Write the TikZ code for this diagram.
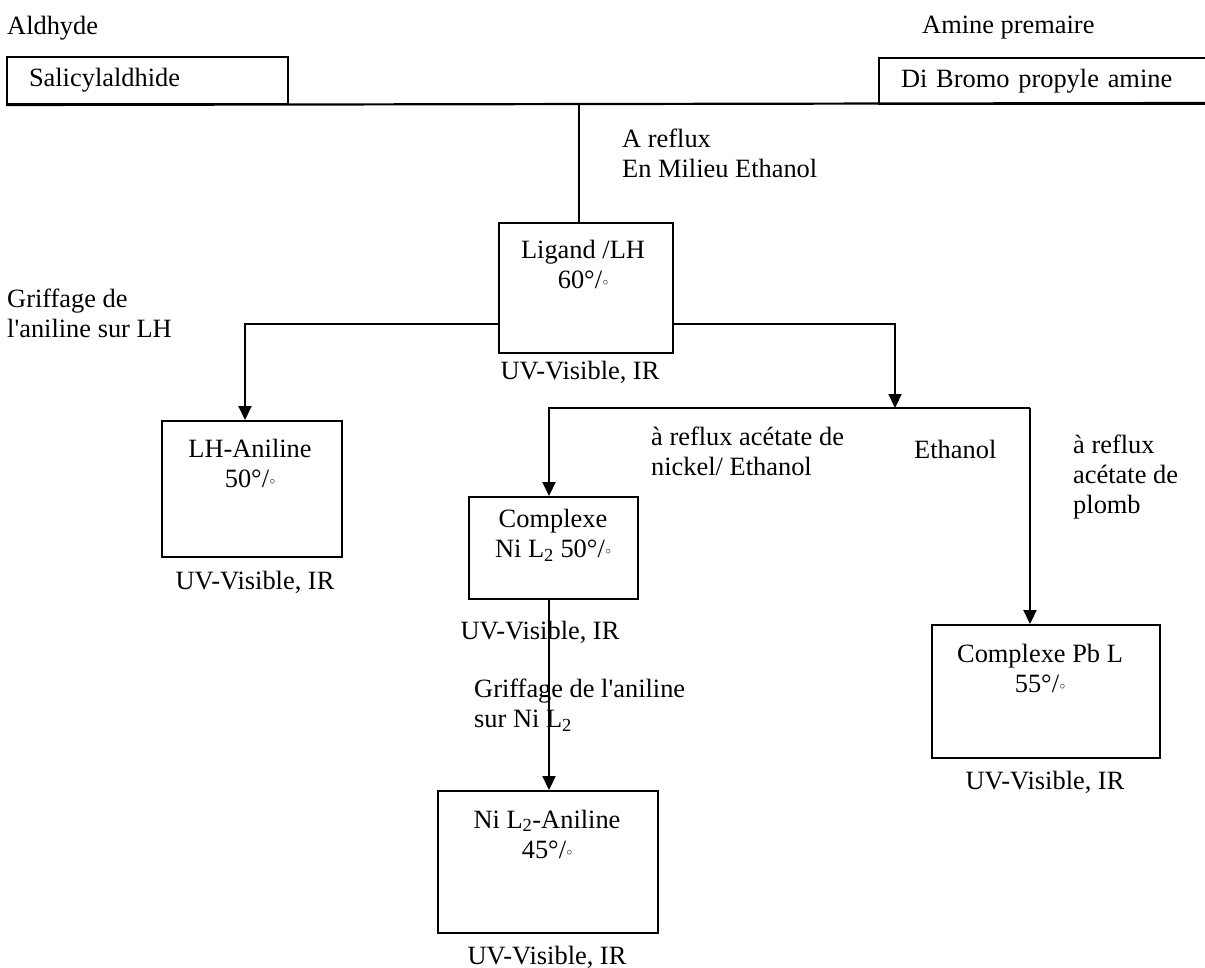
\documentclass[tikz,border=0pt]{standalone}
\usepackage{fontspec}
\setmainfont{Liberation Serif}
\usetikzlibrary{arrows.meta}

\newcommand{\pourcent}{°/\kern0.5pt\raisebox{0.1em}{\scalebox{0.45}{$\circ$}}}

\begin{document}
\begin{tikzpicture}[x=1pt, y=-1pt,
   every node/.style={font=\fontsize{26.4}{30}\selectfont, inner sep=0pt},
   boite/.style={draw, line width=2pt, anchor=north west},
   texte/.style={align=center},
   note/.style={anchor=west, align=left},
   fleche/.style={line width=2.2pt, -{Triangle[width=13pt, length=14pt]}},
   trait/.style={line width=2.2pt}]

\useasboundingbox (0,0) rectangle (1205,968);
\clip (0,0) rectangle (1205,968);

% reactifs
\node[note] (aldhyde) at (7,28) {Aldhyde};
\node[note] (amine) at (922,28) {Amine premaire};
\node[boite, inner xsep=22pt, text width=237pt, minimum height=47pt, align=left] (sal) at (6,56) {Salicylaldhide};
\node[boite, inner xsep=22pt, text width=300pt, minimum height=46pt, align=left] (dibromo) at (878,57) {Di Bromo propyle amine};
\coordinate (bord) at (1205,103);
\coordinate (jonction) at (579,103);
\draw[trait] (sal.south west) -- (bord);

% ligand
\node[boite, minimum width=174pt, minimum height=130pt] (lig) at (498,222) {};
\node[texte] (ligtxt) at (583,264) {Ligand /LH\\60\pourcent};
\node (uvlig) at (580,372) {UV-Visible, IR};
\node[note] (reflux) at (622,153) {A reflux\\En Milieu Ethanol};
\draw[trait] (jonction) -- (jonction |- lig.north);

% greffage sur LH
\node[boite, minimum width=180pt, minimum height=136pt] (lha) at (161,420) {};
\node[texte] (lhatxt) at (250,463) {LH-Aniline\\50\pourcent};
\node (uvlha) at (255,582) {UV-Visible, IR};
\node[note] (griffLH) at (7,313) {Griffage de\\l\textquotesingle aniline sur LH};
\coordinate (gauche) at (245,324);
\draw[fleche] (lig.west |- gauche) -- (gauche) -- (gauche |- lha.north);

% complexation
\coordinate (droite) at (895,324);
\coordinate (fourche) at (895,408);
\coordinate (fg) at (549,408);
\coordinate (fd) at (1030,408);
\draw[fleche] (lig.east |- droite) -- (droite) -- (fourche);
\node[note] (nickel) at (651,451) {à reflux acétate de\\nickel/ Ethanol};
\node[note] (ethanol) at (914,449) {Ethanol};
\node[note] (plomb) at (1073,477) {à reflux\\acétate de\\plomb};

\node[boite, minimum width=169pt, minimum height=102pt] (ni) at (468,496) {};
\node[texte] (nitxt) at (553,535) {Complexe\\Ni L\textsubscript{2} 50\pourcent};
\node (uvni) at (540,632) {UV-Visible, IR};
\draw[fleche] (fd) -- (fg) -- (fg |- ni.north);

\node[boite, minimum width=228pt, minimum height=133pt] (pb) at (931,624) {};
\node[texte] (pbtxt) at (1040,668) {Complexe Pb L\\55\pourcent};
\node (uvpb) at (1045,782) {UV-Visible, IR};
\draw[fleche] (fd) -- (fd |- pb.north);

% greffage sur Ni L2
\node[boite, minimum width=220pt, minimum height=142pt] (nian) at (437,790) {};
\node[texte] (niantxt) at (547,834) {Ni L\textsubscript{2}-Aniline\\45\pourcent};
\node (uvnian) at (547,957) {UV-Visible, IR};
\node[note] (griffNi) at (474,705) {Griffage de l\textquotesingle aniline\\sur Ni L\textsubscript{2}};
\draw[fleche] (fg |- ni.south) -- (fg |- nian.north);

\end{tikzpicture}
\end{document}
